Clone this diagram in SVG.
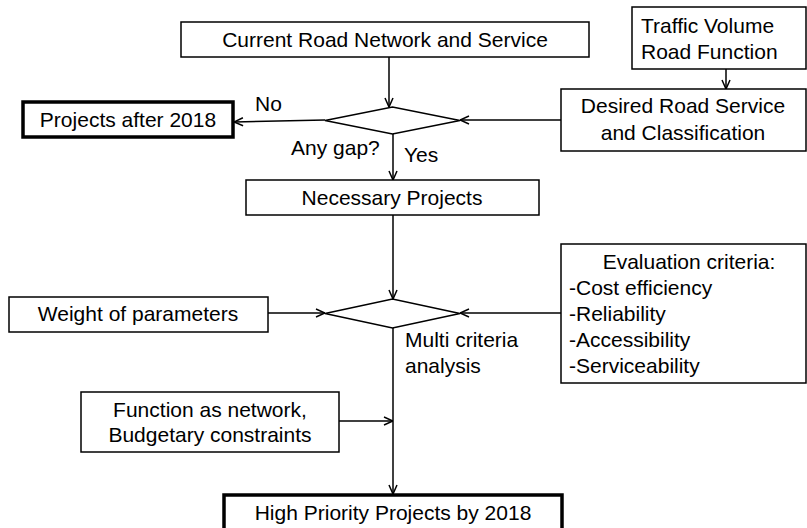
<svg xmlns="http://www.w3.org/2000/svg" width="807" height="528" viewBox="0 0 807 528">
<style>
.b{fill:#fff;stroke:#000;stroke-width:1.5}
.t{fill:#fff;stroke:#000;stroke-width:3.5}
text{font-family:"Liberation Sans",Arial,sans-serif;font-size:21px;fill:#000}
.c{text-anchor:middle}
.l{fill:none;stroke:#000;stroke-width:1.5}
</style>
<defs>
<marker id="a" viewBox="0 0 10 10" refX="10" refY="5" markerWidth="10" markerHeight="10" markerUnits="userSpaceOnUse" orient="auto">
<path d="M1,1 L10,5 L1,9" fill="none" stroke="#000" stroke-width="1.5"/>
</marker>
</defs>
<g id="connectors">
<line class="l" x1="389" y1="57" x2="389" y2="107" marker-end="url(#a)"/>
<line class="l" x1="726" y1="69" x2="726" y2="89" marker-end="url(#a)"/>
<line class="l" x1="561" y1="120" x2="460" y2="120" marker-end="url(#a)"/>
<line class="l" x1="325" y1="120" x2="234" y2="122" marker-end="url(#a)"/>
<line class="l" x1="393" y1="134" x2="393" y2="180" marker-end="url(#a)"/>
<line class="l" x1="393" y1="215" x2="393" y2="299" marker-end="url(#a)"/>
<line class="l" x1="268" y1="313" x2="325" y2="313" marker-end="url(#a)"/>
<line class="l" x1="561" y1="313" x2="460" y2="313" marker-end="url(#a)"/>
<line class="l" x1="393" y1="328" x2="393" y2="494" marker-end="url(#a)"/>
<line class="l" x1="339" y1="421" x2="393" y2="421" marker-end="url(#a)"/>
<text x="255" y="111">No</text>
<text x="291" y="155">Any gap?</text>
<text x="404" y="162">Yes</text>
<text x="405" y="347">Multi criteria</text>
<text x="405" y="373">analysis</text>
</g>
<g id="current">
<rect class="b" x="181" y="22" width="408" height="35"/>
<text class="c" x="385" y="47">Current Road Network and Service</text>
</g>
<g id="traffic">
<rect class="b" x="632" y="7" width="174" height="62"/>
<text x="641" y="33">Traffic Volume</text>
<text x="641" y="59">Road Function</text>
</g>
<g id="desired">
<rect class="b" x="561" y="89" width="245" height="62"/>
<text class="c" x="683" y="113">Desired Road Service</text>
<text class="c" x="683" y="140">and Classification</text>
</g>
<g id="gap">
<polygon class="b" points="325,120.5 392.5,107 460,120.5 392.5,134"/>
</g>
<g id="after">
<rect class="t" x="23" y="102" width="210" height="35"/>
<text class="c" x="128" y="127">Projects after 2018</text>
</g>
<g id="necessary">
<rect class="b" x="246" y="180" width="293" height="35"/>
<text class="c" x="392" y="205">Necessary Projects</text>
</g>
<g id="mca">
<polygon class="b" points="325,313.5 392.5,299 460,313.5 392.5,328"/>
</g>
<g id="weight">
<rect class="b" x="9" y="297" width="259" height="35"/>
<text class="c" x="138" y="321">Weight of parameters</text>
</g>
<g id="criteria">
<rect class="b" x="561" y="244" width="245" height="139"/>
<text class="c" x="689" y="269">Evaluation criteria:</text>
<text x="569" y="295">-Cost efficiency</text>
<text x="569" y="321">-Reliability</text>
<text x="569" y="347">-Accessibility</text>
<text x="569" y="373">-Serviceability</text>
</g>
<g id="function">
<rect class="b" x="81" y="392" width="258" height="60"/>
<text class="c" x="210" y="417">Function as network,</text>
<text class="c" x="210" y="442">Budgetary constraints</text>
</g>
<g id="high">
<rect class="t" x="224" y="495" width="338" height="40"/>
<text class="c" x="393" y="520">High Priority Projects by 2018</text>
</g>
</svg>
